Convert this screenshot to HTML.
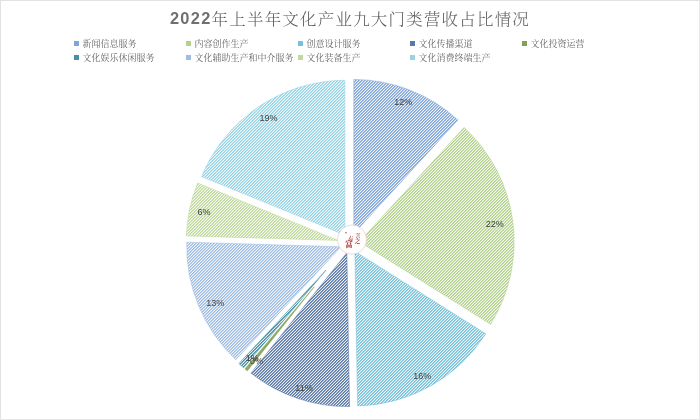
<!DOCTYPE html>
<html lang="zh"><head><meta charset="utf-8"><title>2022年上半年文化产业九大门类营收占比情况</title>
<style>
html,body{margin:0;padding:0;background:#fff}
body{width:700px;height:420px;position:relative;overflow:hidden;font-family:"Liberation Sans","Noto Serif CJK SC",serif}
#frame{position:absolute;left:0;top:0;width:700px;height:420px;box-sizing:border-box;border:1px solid #e2e2e2;border-right-color:#e8e8e8;border-bottom-color:#e6e6e6}
#title{position:absolute;left:0;top:7px;width:700px;text-align:center;font-family:"Liberation Serif","Noto Serif CJK SC",serif;font-size:16.4px;line-height:22px;letter-spacing:1.3px;color:#5c5c5c;white-space:nowrap;font-weight:300;will-change:transform}
#title span{position:relative;top:0.7px}
#title b{font-family:"Liberation Sans",sans-serif;font-weight:700;color:#707070}
.lg{position:absolute;height:14px;line-height:14px;font-family:"Liberation Serif","Noto Serif CJK SC",serif;font-size:9px;color:#666;white-space:nowrap;padding-left:8.4px;font-weight:400;will-change:transform}
.lg i{position:absolute;left:0;top:4.3px;width:4.5px;height:4.5px;display:block}
svg{position:absolute;left:0;top:0}
svg{will-change:transform}
svg g.lb text{font-family:"Liberation Sans",sans-serif;font-size:9px;fill:#404040}
</style></head><body>
<div id="title"><b>2022</b><span>年上半年文化产业九大门类营收占比情况</span></div>
<div class="lg" style="left:74px;top:37.0px"><i style="background:#80a5d6"></i>新闻信息服务</div>
<div class="lg" style="left:186px;top:37.0px"><i style="background:#b2d28d"></i>内容创作生产</div>
<div class="lg" style="left:298px;top:37.0px"><i style="background:#77c1d9"></i>创意设计服务</div>
<div class="lg" style="left:410px;top:37.0px"><i style="background:#5a79a6"></i>文化传播渠道</div>
<div class="lg" style="left:522px;top:37.0px"><i style="background:#80a157"></i>文化投资运营</div>
<div class="lg" style="left:74px;top:50.8px"><i style="background:#488fa4"></i>文化娱乐休闲服务</div>
<div class="lg" style="left:186px;top:50.8px"><i style="background:#9fbde2"></i>文化辅助生产和中介服务</div>
<div class="lg" style="left:298px;top:50.8px"><i style="background:#c0da9d"></i>文化装备生产</div>
<div class="lg" style="left:410px;top:50.8px"><i style="background:#96d3e5"></i>文化消费终端生产</div>
<svg width="700" height="420" viewBox="0 0 700 420"><defs>
<linearGradient id="g0" gradientUnits="userSpaceOnUse" x1="0.25" y1="0.25" x2="1.75" y2="1.75" spreadMethod="repeat"><stop offset="0" stop-color="#80a5d6"/><stop offset=".3333" stop-color="#80a5d6"/><stop offset=".3334" stop-color="#a6c0e2"/><stop offset=".6666" stop-color="#a6c0e2"/><stop offset=".6667" stop-color="#eef3f9"/><stop offset="1" stop-color="#eef3f9"/></linearGradient>
<linearGradient id="g1" gradientUnits="userSpaceOnUse" x1="0.25" y1="0.25" x2="1.75" y2="1.75" spreadMethod="repeat"><stop offset="0" stop-color="#b2d28d"/><stop offset=".3333" stop-color="#b2d28d"/><stop offset=".3334" stop-color="#c9dfaf"/><stop offset=".6666" stop-color="#c9dfaf"/><stop offset=".6667" stop-color="#f5f9f0"/><stop offset="1" stop-color="#f5f9f0"/></linearGradient>
<linearGradient id="g2" gradientUnits="userSpaceOnUse" x1="0.25" y1="0.25" x2="1.75" y2="1.75" spreadMethod="repeat"><stop offset="0" stop-color="#77c1d9"/><stop offset=".3333" stop-color="#77c1d9"/><stop offset=".3334" stop-color="#9fd3e4"/><stop offset=".6666" stop-color="#9fd3e4"/><stop offset=".6667" stop-color="#ecf6fa"/><stop offset="1" stop-color="#ecf6fa"/></linearGradient>
<linearGradient id="g3" gradientUnits="userSpaceOnUse" x1="0.25" y1="0.25" x2="1.75" y2="1.75" spreadMethod="repeat"><stop offset="0" stop-color="#5a79a6"/><stop offset=".3333" stop-color="#5a79a6"/><stop offset=".3334" stop-color="#8ba1c0"/><stop offset=".6666" stop-color="#8ba1c0"/><stop offset=".6667" stop-color="#e9edf3"/><stop offset="1" stop-color="#e9edf3"/></linearGradient>
<linearGradient id="g4" gradientUnits="userSpaceOnUse" x1="0.25" y1="0.25" x2="1.75" y2="1.75" spreadMethod="repeat"><stop offset="0" stop-color="#80a157"/><stop offset=".3333" stop-color="#80a157"/><stop offset=".3334" stop-color="#a6bd89"/><stop offset=".6666" stop-color="#a6bd89"/><stop offset=".6667" stop-color="#eef2e8"/><stop offset="1" stop-color="#eef2e8"/></linearGradient>
<linearGradient id="g5" gradientUnits="userSpaceOnUse" x1="0.25" y1="0.25" x2="1.75" y2="1.75" spreadMethod="repeat"><stop offset="0" stop-color="#488fa4"/><stop offset=".3333" stop-color="#488fa4"/><stop offset=".3334" stop-color="#7eb0bf"/><stop offset=".6666" stop-color="#7eb0bf"/><stop offset=".6667" stop-color="#e6f0f3"/><stop offset="1" stop-color="#e6f0f3"/></linearGradient>
<linearGradient id="g6" gradientUnits="userSpaceOnUse" x1="0.25" y1="0.25" x2="1.75" y2="1.75" spreadMethod="repeat"><stop offset="0" stop-color="#9fbde2"/><stop offset=".3333" stop-color="#9fbde2"/><stop offset=".3334" stop-color="#bbd0eb"/><stop offset=".6666" stop-color="#bbd0eb"/><stop offset=".6667" stop-color="#f2f6fb"/><stop offset="1" stop-color="#f2f6fb"/></linearGradient>
<linearGradient id="g7" gradientUnits="userSpaceOnUse" x1="0.25" y1="0.25" x2="1.75" y2="1.75" spreadMethod="repeat"><stop offset="0" stop-color="#c0da9d"/><stop offset=".3333" stop-color="#c0da9d"/><stop offset=".3334" stop-color="#d2e5ba"/><stop offset=".6666" stop-color="#d2e5ba"/><stop offset=".6667" stop-color="#f6faf2"/><stop offset="1" stop-color="#f6faf2"/></linearGradient>
<linearGradient id="g8" gradientUnits="userSpaceOnUse" x1="0.25" y1="0.25" x2="1.75" y2="1.75" spreadMethod="repeat"><stop offset="0" stop-color="#96d3e5"/><stop offset=".3333" stop-color="#96d3e5"/><stop offset=".3334" stop-color="#b5e0ec"/><stop offset=".6666" stop-color="#b5e0ec"/><stop offset=".6667" stop-color="#f1f9fb"/><stop offset="1" stop-color="#f1f9fb"/></linearGradient>
</defs>
<g>
<path d="M353.82 233.51L353.82 79.41A155.9 155.9 0 0 1 457.93 119.89Z" fill="url(#g0)" stroke="#6f99d0" stroke-width="0.5" stroke-opacity="0.9"/>
<path d="M359.36 241.71L464.12 127.39A155.9 155.9 0 0 1 490.57 324.34Z" fill="url(#g1)" stroke="#a8cc7e" stroke-width="0.5" stroke-opacity="0.9"/>
<path d="M354.90 251.38L485.72 333.76A155.9 155.9 0 0 1 357.60 405.96Z" fill="url(#g2)" stroke="#64b8d4" stroke-width="0.5" stroke-opacity="0.9"/>
<path d="M346.85 252.68L349.54 406.60A155.9 155.9 0 0 1 251.01 373.16Z" fill="url(#g3)" stroke="#44679a" stroke-width="0.5" stroke-opacity="0.9"/>
<path d="M314.14 286.90L247.36 370.86A155.9 155.9 0 0 1 244.97 368.91Z" fill="#8ca966" stroke="#6f9440" stroke-width="0.5" stroke-opacity="0.9"/>
<path d="M326.03 270.14L243.65 367.80A155.9 155.9 0 0 1 238.90 363.58Z" fill="url(#g5)" stroke="#2f8098" stroke-width="0.5" stroke-opacity="0.9"/>
<path d="M341.02 246.76L235.75 359.65A155.9 155.9 0 0 1 186.73 242.18Z" fill="url(#g6)" stroke="#92b4de" stroke-width="0.5" stroke-opacity="0.9"/>
<path d="M338.28 240.44L186.32 235.93A155.9 155.9 0 0 1 197.52 183.00Z" fill="url(#g7)" stroke="#b7d590" stroke-width="0.5" stroke-opacity="0.9"/>
<path d="M344.88 235.10L201.50 176.59A155.9 155.9 0 0 1 344.88 80.25Z" fill="url(#g8)" stroke="#88cde1" stroke-width="0.5" stroke-opacity="0.9"/>
</g>
<g class="lb"><text x="403.2" y="105.0" text-anchor="middle">12%</text><text x="494.7" y="226.5" text-anchor="middle">22%</text><text x="422.2" y="378.6" text-anchor="middle">16%</text><text x="304.0" y="390.8" text-anchor="middle">11%</text><text x="256.4" y="364.3" text-anchor="middle">0%</text><text x="252.2" y="360.6" text-anchor="middle">1%</text><text x="215.3" y="305.9" text-anchor="middle">13%</text><text x="204.1" y="215.4" text-anchor="middle">6%</text><text x="268.6" y="120.8" text-anchor="middle">19%</text></g>
<g id="wm" font-family="'Liberation Serif','Noto Serif CJK SC',serif" fill="#a8322c">
<circle cx="352" cy="239.6" r="14.6" fill="#fff" stroke="#e2bcba" stroke-width="0.55"/>
<circle cx="346" cy="232.7" r="0.7"/>
<text transform="translate(355.4 236.5) scale(.5)" font-size="10" font-weight="700">言</text>
<text transform="translate(355.0 242.9) scale(.5)" font-size="10.5" font-weight="700">之</text>
<text transform="translate(348.5 240.2) scale(.5)" font-size="9.5" font-weight="700">有</text>
<text transform="translate(345.2 246.7) scale(.5)" font-size="15" font-weight="900">富</text>
</g>
</svg>
<div id="frame"></div>
</body></html>
